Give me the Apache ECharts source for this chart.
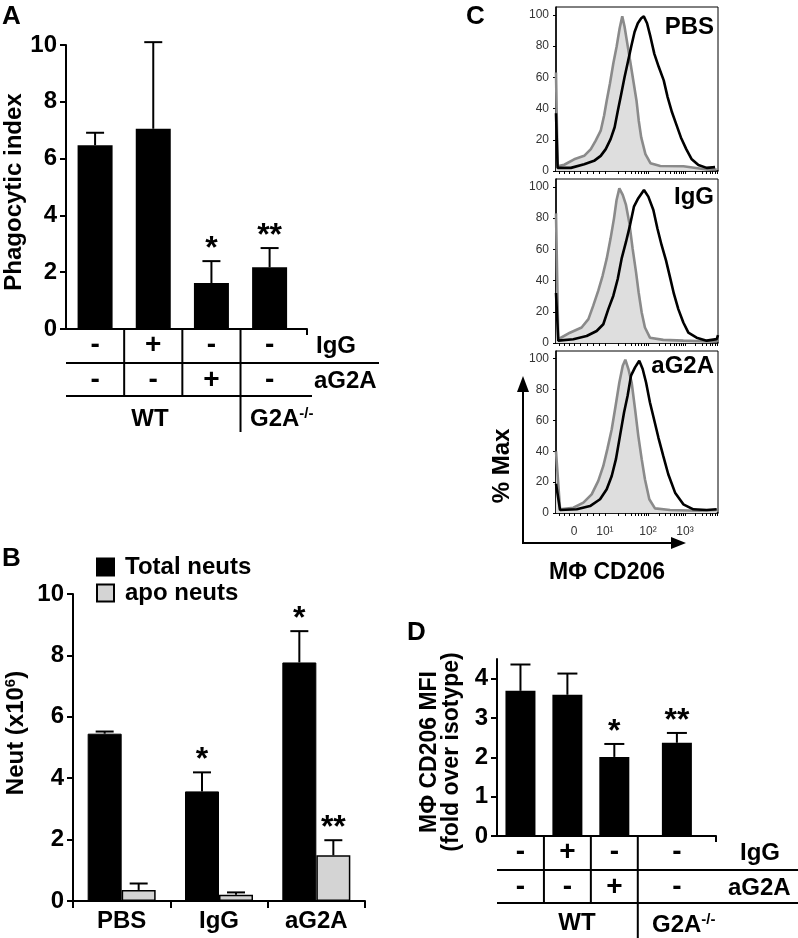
<!DOCTYPE html>
<html><head><meta charset="utf-8">
<script src="https://cdn.jsdelivr.net/npm/echarts@6/dist/echarts.min.js"></script>
<style>html,body{margin:0;padding:0;background:#fff}#c{width:798px;height:938px}</style>
</head><body><div id="c"></div>
<script>
// ---------- Panel A: phagocytic index ----------
const aGroups = ['WT', 'WT + IgG', 'WT + aG2A', 'G2A-/-'];
const aValues = [6.47, 7.05, 1.62, 2.17];
const aSem    = [0.44, 3.05, 0.77, 0.68];
const aSig    = ['', '', '*', '**'];
const aIgG    = ['-', '+', '-', '-'];
const aAnti   = ['-', '-', '+', '-'];

// ---------- Panel B: neutrophils ----------
const bCats     = ['PBS', 'IgG', 'aG2A'];
const bTotal    = [5.45, 3.57, 7.77];
const bTotalSem = [0.07, 0.62, 1.02];
const bTotalSig = ['', '*', '*'];
const bApo      = [0.36, 0.20, 1.49];
const bApoSem   = [0.21, 0.08, 0.49];
const bApoSig   = ['', '', '**'];

// ---------- Panel C: CD206 histograms (x = % of axis width, y = % Max) ----------
const pbsIso = [[0,63],[1.0,3],[5.1,4],[11.2,7.5],[17.4,9.7],[21.5,14],[24.5,19.4],[27.6,25.8],[29.7,35.5],[31.3,45],[33.3,56],[35.4,69],[37.4,79.5],[39.3,91.4],[40.9,99],[42.3,92.5],[44,81.7],[46,69],[48,56],[49.7,45],[51.1,32],[52.6,21.5],[55.2,10.8],[58.3,5],[64.4,3.2],[78.7,3],[93,1],[99.2,1]];
const pbsCD206 = [[0,37],[1.0,2],[9.2,2],[17.4,4.3],[23.5,6.5],[27.6,9.7],[30.7,14],[33.7,20.4],[36.2,28],[38.2,38.7],[40.3,49.5],[42.3,60],[44.4,70],[46.4,79.5],[48.5,89],[50.5,94.6],[52.6,97.8],[54.2,99],[56.2,94.6],[58.3,86],[60.7,75],[63.4,66.7],[66.5,58],[68.9,47.3],[71.6,37.6],[74.2,30],[77.1,21.5],[80.4,14],[83.8,7.5],[87.9,3.9],[93,2],[98.2,2.5]];
const iggIso = [[0,83],[1.4,2.4],[8.6,6.6],[15.8,9.9],[20,15.3],[23,23.9],[26.1,33.5],[28.8,43.2],[31.3,54],[33.7,67],[35.8,79.8],[37.4,91.6],[39.1,99],[41.2,94.8],[43.2,88.4],[45.3,76.6],[47.3,60.4],[49.4,45.4],[51,32.5],[52.9,19.5],[54.9,9.9],[58,3.4],[66.2,2],[78.6,1.5],[95.1,1],[99.5,1]];
const iggCD206 = [[0,32],[1.4,1.5],[10.7,2.4],[18.9,4.5],[25.1,7.7],[29.2,12],[32.3,21.7],[35.4,30.3],[38.1,41],[40.5,54],[43.2,64.7],[45.7,75.5],[48.1,87.3],[50.8,92.7],[54.3,98],[57,93.7],[60.1,85.2],[62.6,73.3],[65.2,62.6],[67.9,52.9],[70.4,42],[72.8,31.4],[75.5,21.7],[78.6,13.1],[81.7,6.6],[86.8,3.4],[93,1.5],[99.2,2.5],[100,5]];
const ag2aIso = [[0,40],[2.5,2.4],[10.7,3.4],[16.9,6.7],[22,12.1],[26.1,20.8],[29.2,30.5],[31.7,41.4],[34.4,54.3],[36.8,69.5],[39.1,84.6],[41.2,95.5],[42.8,99.4],[44.7,93.3],[46.7,84.6],[48.8,67.3],[50.8,50],[52.9,34.9],[54.9,21.9],[57.6,8.9],[61.1,3],[70.4,1.9],[88.9,1.5],[99.2,1.9]];
const ag2aCD206 = [[0,19],[2.5,1.9],[12.8,2.4],[21,4.5],[27.2,8.9],[31.3,15.4],[34.4,24],[37,34.9],[39.5,50],[42,65.1],[44.2,76],[46.3,89],[48.8,94.4],[51.4,98.7],[53.5,93.3],[55.6,84.6],[58,71.6],[60.5,60.8],[63.2,48.9],[66.2,37],[69.3,25.1],[73.5,13.2],[78.6,5.6],[84.8,2.4],[93,1.9],[99.2,2.4]];
const histPanels   = ['PBS', 'IgG', 'aG2A'];
const histYTicks   = [0, 20, 40, 60, 80, 100];
const histXLabelAt = [11.1, 30.2, 56.8, 79.6];
const histXLabels  = ['0', '10¹', '10²', '10³'];
const histXTicks   = [2, 5, 8, 11.1, 15, 19, 23, 26.5, 30.2, 38.2, 42.9, 46.2, 48.8, 50.9, 52.7, 54.2, 55.6, 56.8, 63.7, 67.7, 70.5, 72.7, 74.5, 76.1, 77.4, 78.6, 79.6, 86.2, 90.1, 92.8, 95, 96.7, 98.2, 99.5];

// ---------- Panel D: CD206 MFI ----------
const dGroups = ['WT', 'WT + IgG', 'WT + aG2A', 'G2A-/-'];
const dValues = [3.69, 3.59, 2.01, 2.37];
const dSem    = [0.67, 0.54, 0.33, 0.25];
const dSig    = ['', '', '*', '**'];
const dIgG    = ['-', '+', '-', '-'];
const dAnti   = ['-', '-', '+', '-'];

// ---------- layout ----------
const FONT = "'Liberation Sans', Arial, Helvetica, sans-serif";
const G = {
  A:  {left: 66,  top: 45,  width: 241, height: 284},
  B:  {left: 73,  top: 594, width: 292, height: 307},
  C1: {left: 556, top: 7,   width: 162, height: 164},
  C2: {left: 556, top: 179, width: 162, height: 164},
  C3: {left: 556, top: 351, width: 162, height: 162},
  D:  {left: 497, top: 659, width: 219, height: 177}
};
const aSlots = [7, 7, 7, 8];
const dSlots = [3, 3, 3, 5];

function slotAxis(groups, slots) {
  const cats = [], pos = [];
  groups.forEach((g, i) => {
    const n = slots[i], mid = Math.floor((n - 1) / 2);
    for (let k = 0; k < n; k++) {
      if (k === mid) { pos.push(cats.length); cats.push(g); } else cats.push('');
    }
  });
  return {cats, pos};
}
function barData(ax, vals) {
  const arr = ax.cats.map(() => '-');
  ax.pos.forEach((p, i) => { arr[p] = vals[i]; });
  return arr;
}
function groupBounds(g, slots) {
  const tot = slots.reduce((a, b) => a + b, 0);
  const out = [g.left]; let c = 0;
  slots.forEach(s => { c += s; out.push(g.left + g.width * c / tot); });
  return out;
}
const aAx = slotAxis(aGroups, aSlots);
const dAx = slotAxis(dGroups, dSlots);

function makeErr(sig, offset, cap) {
  return function (params, api) {
    const xv = api.value(0), v = api.value(1), e = api.value(2);
    const p0 = api.coord([xv, v]), p1 = api.coord([xv, v + e]);
    const x = p0[0] + offset;
    const ch = [
      {type: 'line', shape: {x1: x, y1: p0[1], x2: x, y2: p1[1]}, style: {stroke: '#000', lineWidth: 2}},
      {type: 'line', shape: {x1: x - cap, y1: p1[1], x2: x + cap, y2: p1[1]}, style: {stroke: '#000', lineWidth: 2}}
    ];
    const s = sig[params.dataIndex];
    if (s) ch.push({type: 'text', x: x, y: p1[1] + 4, style: {text: s, fill: '#000', font: 'bold 32px ' + FONT,
      align: 'center', verticalAlign: 'bottom', textAlign: 'center', textVerticalAlign: 'bottom'}});
    return {type: 'group', children: ch};
  };
}

const valAxisBase = (gi, min, max, interval) => ({
  gridIndex: gi, type: 'value', min, max, interval,
  axisLine: {show: true, lineStyle: {color: '#000', width: 2}},
  axisTick: {show: true, length: 6, lineStyle: {color: '#000', width: 2}},
  axisLabel: {fontSize: 24, fontWeight: 'bold', color: '#000', fontFamily: FONT, margin: 9},
  splitLine: {show: false}
});
const histY = (gi) => ({
  gridIndex: gi, type: 'value', min: 0, max: 105,
  axisLine: {show: true, lineStyle: {color: '#000', width: 1.5}},
  axisTick: {show: true, length: 3, customValues: histYTicks, lineStyle: {color: '#000', width: 1}},
  axisLabel: {customValues: histYTicks, fontSize: 12, color: '#333', fontFamily: FONT, margin: 7},
  splitLine: {show: false}
});
const histX = (gi, labels) => ({
  gridIndex: gi, type: 'value', min: 0, max: 100,
  axisLine: {show: true, lineStyle: {color: '#000', width: 1.5}},
  axisTick: {show: true, length: 3, customValues: histXTicks, lineStyle: {color: '#000', width: 1}},
  axisLabel: labels ? {customValues: histXLabelAt, fontSize: 12, color: '#333', fontFamily: FONT, margin: 13,
    formatter: v => { const i = histXLabelAt.indexOf(v); return i >= 0 ? histXLabels[i] : ''; }} : {show: false},
  splitLine: {show: false}
});
const histSeries = (gi, iso, stain) => [
  {type: 'line', xAxisIndex: gi, yAxisIndex: gi, data: iso, showSymbol: false, symbol: 'none',
   lineStyle: {color: '#8a8a8a', width: 2.6}, areaStyle: {color: '#dedede', opacity: 1}, z: 2},
  {type: 'line', xAxisIndex: gi, yAxisIndex: gi, data: stain, showSymbol: false, symbol: 'none',
   lineStyle: {color: '#000', width: 2.6}, z: 3}
];
const boxGrid = g => Object.assign({show: true, borderColor: '#000', borderWidth: 1, backgroundColor: 'transparent'}, g);

const option = {
  animation: false,
  textStyle: {fontFamily: FONT},
  grid: [G.A, G.B, boxGrid(G.C1), boxGrid(G.C2), boxGrid(G.C3), G.D],
  legend: {
    data: ['Total neuts', 'apo neuts'], orient: 'vertical', left: 96, top: 555,
    itemWidth: 17, itemHeight: 17, itemGap: 2, icon: 'rect', padding: 0, selectedMode: false,
    textStyle: {fontSize: 24, fontWeight: 'bold', color: '#000', fontFamily: FONT, padding: [0, 0, 0, 6], lineHeight: 24}
  },
  xAxis: [
    {gridIndex: 0, type: 'category', data: aAx.cats, axisLine: {lineStyle: {color: '#000', width: 2}}, axisTick: {show: false}, axisLabel: {show: false}},
    {gridIndex: 1, type: 'category', data: bCats, axisLine: {lineStyle: {color: '#000', width: 2}},
     axisTick: {show: true, length: 7, lineStyle: {color: '#000', width: 2}},
     axisLabel: {fontSize: 24, fontWeight: 'bold', color: '#000', fontFamily: FONT, margin: 8, interval: 0}},
    histX(2, false), histX(3, false), histX(4, true),
    {gridIndex: 5, type: 'category', data: dAx.cats, axisLine: {lineStyle: {color: '#000', width: 2}}, axisTick: {show: false}, axisLabel: {show: false}}
  ],
  yAxis: [
    valAxisBase(0, 0, 10, 2),
    valAxisBase(1, 0, 10, 2),
    histY(2), histY(3), histY(4),
    Object.assign(valAxisBase(5, 0, 4.5, 1), {axisLabel: {fontSize: 24, fontWeight: 'bold', color: '#000', fontFamily: FONT, margin: 9, showMaxLabel: false}})
  ],
  series: [
    {type: 'bar', xAxisIndex: 0, yAxisIndex: 0, data: barData(aAx, aValues), barWidth: 35, itemStyle: {color: '#000'}},
    {type: 'custom', xAxisIndex: 0, yAxisIndex: 0, renderItem: makeErr(aSig, 0, 9),
     data: aAx.pos.map((p, i) => [p, aValues[i], aSem[i]]), z: 5},
    {type: 'bar', name: 'Total neuts', xAxisIndex: 1, yAxisIndex: 1, data: bTotal, barWidth: 34, barGap: '0%',
     itemStyle: {color: '#000', borderColor: '#000', borderWidth: 1}},
    {type: 'bar', name: 'apo neuts', xAxisIndex: 1, yAxisIndex: 1, data: bApo, barWidth: 34, barGap: '0%',
     itemStyle: {color: '#d4d4d4', borderColor: '#000', borderWidth: 1.5}},
    {type: 'custom', xAxisIndex: 1, yAxisIndex: 1, renderItem: makeErr(bTotalSig, -17, 9),
     data: bTotal.map((v, i) => [i, v, bTotalSem[i]]), z: 5},
    {type: 'custom', xAxisIndex: 1, yAxisIndex: 1, renderItem: makeErr(bApoSig, 17, 9),
     data: bApo.map((v, i) => [i, v, bApoSem[i]]), z: 5},
    ...histSeries(2, pbsIso, pbsCD206),
    ...histSeries(3, iggIso, iggCD206),
    ...histSeries(4, ag2aIso, ag2aCD206),
    {type: 'bar', xAxisIndex: 5, yAxisIndex: 5, data: barData(dAx, dValues), barWidth: 30, itemStyle: {color: '#000'}},
    {type: 'custom', xAxisIndex: 5, yAxisIndex: 5, renderItem: makeErr(dSig, 0, 10),
     data: dAx.pos.map((p, i) => [p, dValues[i], dSem[i]]), z: 5}
  ]
};

const chart = echarts.init(document.getElementById('c'), null, {renderer: 'canvas'});
chart.setOption(option);

// ---------- decorations: panel letters, titles, condition tables ----------
function T(x, y, text, size, opt) {
  opt = opt || {};
  const al = opt.align || 'center', va = opt.va || 'middle';
  const st = {text, fill: '#000', font: (opt.weight || 'bold') + ' ' + size + 'px ' + FONT,
    align: al, verticalAlign: va, textAlign: al, textVerticalAlign: va};
  if (opt.rich) st.rich = opt.rich;
  return {type: 'text', x, y, rotation: opt.rot || 0, silent: true, z: 100, style: st};
}
function Ln(x1, y1, x2, y2, w) {
  return {type: 'line', silent: true, z: 100, shape: {x1, y1, x2, y2}, style: {stroke: '#000', lineWidth: w || 2}};
}
function Tri(pts) {
  return {type: 'polygon', silent: true, z: 100, shape: {points: pts}, style: {fill: '#000'}};
}
const supRich = {sup: {fontSize: 15, fontWeight: 'bold', fontFamily: FONT, verticalAlign: 'top', lineHeight: 26}};
const els = [];

// Panel A
els.push(T(2, 17, 'A', 26, {align: 'left'}));
els.push(T(14, 192, 'Phagocytic index', 24, {rot: Math.PI / 2}));
const aC = aAx.pos.map(p => chart.convertToPixel({xAxisIndex: 0}, p));
const aB = groupBounds(G.A, aSlots);
const aY0 = G.A.top + G.A.height;
aC.forEach((x, i) => { els.push(T(x, 345, aIgG[i], 28)); els.push(T(x, 380, aAnti[i], 28)); });
els.push(T(316, 346, 'IgG', 24, {align: 'left'}));
els.push(T(314, 381, 'aG2A', 24, {align: 'left'}));
els.push(Ln(G.A.left, 363, 379, 363));
els.push(Ln(G.A.left, 396, 312, 396));
els.push(Ln(aB[1], aY0, aB[1], 396));
els.push(Ln(aB[2], aY0, aB[2], 396));
els.push(Ln(aB[3], aY0, aB[3], 432));
els.push(Ln(aB[4], aY0, aB[4], aY0 + 6));
els.push(T(150, 419, 'WT', 24));
els.push(T(250, 419, 'G2A{sup|-/-}', 24, {align: 'left', rich: supRich}));

// Panel B
els.push(T(2, 559, 'B', 26, {align: 'left'}));
els.push(T(16, 733, 'Neut (x10{sup|6})', 24, {rot: Math.PI / 2, rich: supRich}));

// Panel C
els.push(T(466, 17, 'C', 26, {align: 'left'}));
const cLabelY = [27, 197, 366];
histPanels.forEach((t, i) => els.push(T(714, cLabelY[i], t, 24, {align: 'right'})));
els.push(Ln(523, 543, 523, 388, 2));
els.push(Tri([[523, 376], [517, 392], [529, 392]]));
els.push(Ln(522, 543, 674, 543, 2));
els.push(Tri([[686, 543], [671, 537], [671, 549]]));
els.push(T(502, 466, '% Max', 24, {rot: Math.PI / 2}));
els.push(T(607, 573, 'MΦ CD206', 23));

// Panel D
els.push(T(407, 633, 'D', 26, {align: 'left'}));
els.push(T(430, 752, 'MΦ CD206 MFI', 23, {rot: Math.PI / 2}));
els.push(T(452, 752, '(fold over isotype)', 23, {rot: Math.PI / 2}));
const dC = dAx.pos.map(p => chart.convertToPixel({xAxisIndex: 5}, p));
const dB = groupBounds(G.D, dSlots);
const dY0 = G.D.top + G.D.height;
dC.forEach((x, i) => { els.push(T(x, 852, dIgG[i], 28)); els.push(T(x, 887, dAnti[i], 28)); });
els.push(T(740, 853, 'IgG', 24, {align: 'left'}));
els.push(T(728, 888, 'aG2A', 24, {align: 'left'}));
els.push(Ln(G.D.left, 870, 798, 870));
els.push(Ln(G.D.left, 903, 798, 903));
els.push(Ln(dB[1], dY0, dB[1], 903));
els.push(Ln(dB[2], dY0, dB[2], 903));
els.push(Ln(dB[3], dY0, dB[3], 938));
els.push(Ln(dB[4], dY0, dB[4], dY0 + 6));
els.push(T(577, 923, 'WT', 24));
els.push(T(652, 925, 'G2A{sup|-/-}', 24, {align: 'left', rich: supRich}));

chart.setOption({graphic: {elements: els}});
</script>
</body></html>
